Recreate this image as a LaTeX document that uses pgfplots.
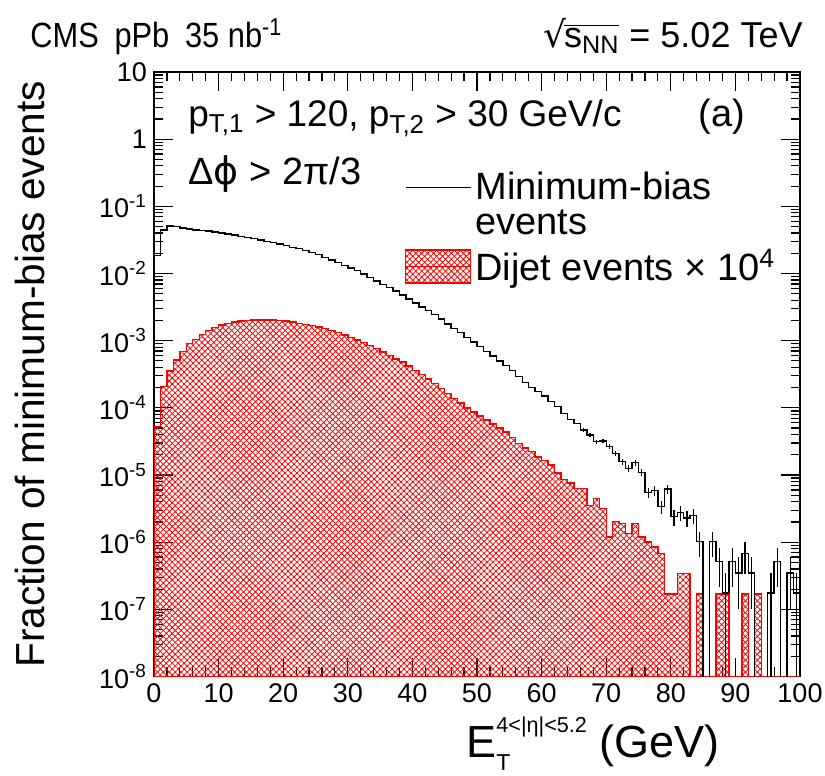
\documentclass[border=0pt]{standalone}
\usepackage{fontspec}
\setmainfont{Liberation Sans}
\newfontfamily\dejavu{DejaVu Sans}
\newfontfamily\narrowfont{Liberation Sans}[FakeStretch=0.88]
\usepackage{pgfplots}
\pgfplotsset{compat=1.18}
\usetikzlibrary{patterns.meta}

\begin{document}
\begin{tikzpicture}
\path[use as bounding box] (-77pt,-49.75pt) rectangle (335.5pt,338.25pt);
\begin{axis}[
  at={(0pt,0pt)}, anchor=south west,
  scale only axis, width=323pt, height=302.25pt,
  xmin=0, xmax=100, ymin=1e-8, ymax=10,
  ymode=log, log origin y=infty,
  xtick={0,10,...,100}, minor x tick num=4,
  ytick={1e-8,1e-7,1e-6,1e-5,1e-4,1e-3,1e-2,1e-1,1,10},
  yticklabels={10\textsuperscript{-8},10\textsuperscript{-7},10\textsuperscript{-6},10\textsuperscript{-5},10\textsuperscript{-4},10\textsuperscript{-3},10\textsuperscript{-2},10\textsuperscript{-1},1,10},
  tick align=inside,
  major tick length=9.5pt, minor tick length=4.75pt,
  axis line style={line width=0.8pt},
  every tick/.append style={line width=0.6pt, black},
  tick label style={font=\fontsize{13.5}{16}\selectfont},
  /pgf/number format/assume math mode=true,
  xlabel={E\rlap{\raisebox{-0.28em}{\fontsize{11.5}{11.5}\selectfont T}}\raisebox{0.56em}{\fontsize{10.8}{10.8}\selectfont 4<|η|<5.2} (GeV)},
  ylabel={Fraction of minimum-bias events},
  xlabel style={at={(axis description cs:0.876,-0.134)}, anchor=base east, inner sep=0pt, font=\fontsize{22.5}{22.5}\selectfont},
  ylabel style={at={(axis description cs:-0.1687,0.5)}, anchor=south, inner sep=0pt, font=\fontsize{20.3}{20}\selectfont},
  reverse legend,
  legend cell align=left,
  legend style={draw=none, fill=none, at={(axis description cs:0.3885,0.841)}, anchor=north west,
    inner sep=0pt, outer sep=0pt, font=\fontsize{19}{17.5}\selectfont, align=left, row sep=2pt,
    /tikz/every even column/.append style={column sep=5pt}},
]
\addplot[const plot, draw=red, line width=0.7pt,
  pattern={Hatch[angle=45,distance=2.1pt,line width=0.4pt]}, pattern color=red,
  legend image code/.code={
    \fill[pattern={Hatch[angle=45,distance=2.1pt,line width=0.4pt]}, pattern color=red] (0pt,-8.25pt) rectangle (32.5pt,8.25pt);
    \draw[red, line width=0.7pt] (0pt,0pt) -- (32.5pt,0pt);}]
coordinates {
(0,5.25e-5)(1,2.07e-4)(2,3.55e-4)(3,5.13e-4)(4,6.87e-4)(5,9.12e-4)(6,1.047e-3)(7,1.245e-3)(8,1.413e-3)(9,1.585e-3)
(10,1.714e-3)(11,1.816e-3)(12,1.905e-3)(13,1.963e-3)(14,1.995e-3)(15,2.032e-3)(16,2.042e-3)(17,2.042e-3)(18,2.032e-3)(19,1.995e-3)
(20,1.950e-3)(21,1.884e-3)(22,1.820e-3)(23,1.758e-3)(24,1.679e-3)(25,1.603e-3)(26,1.514e-3)(27,1.413e-3)(28,1.318e-3)(29,1.216e-3)
(30,1.122e-3)(31,1.023e-3)(32,9.33e-4)(33,8.51e-4)(34,7.59e-4)(35,6.76e-4)(36,6.03e-4)(37,5.37e-4)(38,4.79e-4)(39,4.17e-4)
(40,3.63e-4)(41,3.16e-4)(42,2.69e-4)(43,2.29e-4)(44,1.95e-4)(45,1.62e-4)(46,1.38e-4)(47,1.175e-4)(48,1.0e-4)(49,8.71e-5)
(50,7.59e-5)(51,6.61e-5)(52,5.75e-5)(53,5.01e-5)(54,4.37e-5)(55,3.63e-5)(56,2.95e-5)(57,2.51e-5)(58,2.24e-5)(59,1.86e-5)
(60,1.66e-5)(61,1.41e-5)(62,1.07e-5)(63,8.51e-6)(64,7.59e-6)(65,6.31e-6)(66,6.31e-6)(67,3.55e-6)(68,4.47e-6)(69,3.16e-6)
(70,1.20e-6)(71,2.04e-6)(72,1.91e-6)(73,1.35e-6)(74,1.91e-6)(75,1.20e-6)(76,1.0e-6)(77,8.51e-7)(78,6.76e-7)(79,1.70e-7)
(80,1.70e-7)(81,3.39e-7)(82,3.39e-7)(83,1e-9)(84,1.70e-7)(85,1e-9)(86,1e-9)(87,1.70e-7)(88,1.70e-7)(89,1e-9)
(90,1e-9)(91,1.70e-7)(92,1e-9)(93,1.70e-7)(94,1e-9)(95,1e-9)(96,1e-9)(97,1e-9)(98,1e-9)(99,1e-9)(100,1e-9)
} \closedcycle;
\addlegendentry{Dijet events × 10\textsuperscript{4}}

\addplot[const plot, black, line width=0.7pt,
  legend image code/.code={\draw[black, line width=0.7pt] (0pt,8.75pt) -- (32.5pt,8.75pt);}]
coordinates {
(0,0.0186)(1,0.0447)(2,0.0513)(3,0.0501)(4,0.0479)(5,0.0462)(6,0.0447)(7,0.0437)(8,0.0427)(9,0.0417)
(10,0.0403)(11,0.0389)(12,0.0372)(13,0.0359)(14,0.0347)(15,0.0331)(16,0.0316)(17,0.0302)(18,0.0288)(19,0.0275)
(20,0.0263)(21,0.0245)(22,0.0234)(23,0.0219)(24,0.0204)(25,0.0191)(26,0.0174)(27,0.0158)(28,0.0145)(29,0.0132)
(30,0.0120)(31,0.0110)(32,0.00977)(33,0.00871)(34,0.00776)(35,0.00692)(36,0.00617)(37,0.00550)(38,0.00479)(39,0.00417)
(40,0.00363)(41,0.00316)(42,0.00282)(43,0.00245)(44,0.00209)(45,0.00178)(46,0.00151)(47,0.00132)(48,0.00112)(49,9.55e-4)
(50,8.13e-4)(51,6.92e-4)(52,5.89e-4)(53,5.01e-4)(54,4.27e-4)(55,3.63e-4)(56,2.95e-4)(57,2.40e-4)(58,2.02e-4)(59,1.74e-4)
(60,1.50e-4)(61,1.24e-4)(62,1.04e-4)(63,8.30e-5)(64,6.75e-5)(65,5.89e-5)(66,4.68e-5)(67,3.94e-5)(68,3.14e-5)(69,3.21e-5)
(70,2.64e-5)(71,2.10e-5)(72,1.58e-5)(73,1.26e-5)(74,1.53e-5)(75,1.10e-5)(76,5.50e-6)(77,5.89e-6)(78,3.39e-6)(79,6.17e-6)
(80,2.40e-6)(81,2.75e-6)(82,2.29e-6)(83,2.51e-6)(84,1.02e-6)(85,1e-9)(86,1.02e-6)(87,5.13e-7)(88,1.74e-7)(89,5.13e-7)
(90,3.47e-7)(91,6.76e-7)(92,3.47e-7)(93,1e-9)(94,1e-9)(95,1.74e-7)(96,5.13e-7)(97,1e-9)(98,3.47e-7)(99,1.74e-7)(100,1.74e-7)
};
\addlegendentry{Minimum-bias\\events}

\addplot[forget plot, only marks, mark=*, mark size=0.01pt, black,
  error bars/.cd, y dir=both, y explicit, error mark=none,
  error bar style={line width=0.6pt, black}]
coordinates {
(66.5,4.68e-5) +- (0,2.8e-6)
(67.5,3.94e-5) +- (0,2.6e-6)
(68.5,3.14e-5) +- (0,2.3e-6)
(69.5,3.21e-5) +- (0,2.3e-6)
(70.5,2.64e-5) +- (0,2.1e-6)
(71.5,2.10e-5) +- (0,1.9e-6)
(72.5,1.58e-5) +- (0,1.65e-6)
(73.5,1.26e-5) +- (0,1.46e-6)
(74.5,1.53e-5) +- (0,1.6e-6)
(75.5,1.10e-5) +- (0,1.37e-6)
(76.5,5.50e-6) +- (0,9.7e-7)
(77.5,5.89e-6) +- (0,1.0e-6)
(78.5,3.39e-6) +- (0,7.6e-7)
(79.5,6.17e-6) +- (0,1.02e-6)
(80.5,2.40e-6) +- (0,6.4e-7)
(81.5,2.75e-6) +- (0,6.8e-7)
(82.5,2.29e-6) +- (0,6.2e-7)
(83.5,2.51e-6) +- (0,6.5e-7)
(84.5,1.02e-6) +- (0,4.2e-7)
(86.5,1.02e-6) +- (0,4.2e-7)
(87.5,5.13e-7) +- (0,2.96e-7)
(88.5,1.74e-7) +- (0,1.72e-7)
(89.5,5.13e-7) +- (0,2.96e-7)
(90.5,3.47e-7) +- (0,2.45e-7)
(91.5,6.76e-7) +- (0,3.4e-7)
(92.5,3.47e-7) +- (0,2.45e-7)
(95.5,1.74e-7) +- (0,1.72e-7)
(96.5,5.13e-7) +- (0,2.96e-7)
(98.5,3.47e-7) +- (0,2.45e-7)
(99.5,1.74e-7) +- (0,1.72e-7)
};
\end{axis}

\node[anchor=base west, inner sep=0pt, font=\narrowfont\fontsize{17.5}{17.5}\selectfont] at (-62pt,314.25pt) {CMS\hspace{0.45em}pPb\hspace{0.45em}35 nb\textsuperscript{-1}};
\node[anchor=base east, inner sep=0pt, font=\fontsize{18}{18}\selectfont] at (324.5pt,314.25pt) {{\dejavu √}\kern-0.06em\vbox{\hrule height 0.75pt\kern 1.3pt\hbox{s\textsubscript{NN}}} = 5.02 TeV};
\node[anchor=base west, inner sep=0pt, font=\fontsize{18.5}{18.5}\selectfont] at (17pt,274.75pt) {p\textsubscript{T,1} > 120, p\textsubscript{T,2} > 30 GeV/c};
\node[anchor=base, inner sep=0pt, font=\fontsize{19}{19}\selectfont] at (284pt,274.75pt) {(a)};
\node[anchor=base west, inner sep=0pt, font=\fontsize{19}{19}\selectfont] at (17pt,245.75pt) {Δ{\dejavu ϕ} > 2π/3};
\end{tikzpicture}
\end{document}
